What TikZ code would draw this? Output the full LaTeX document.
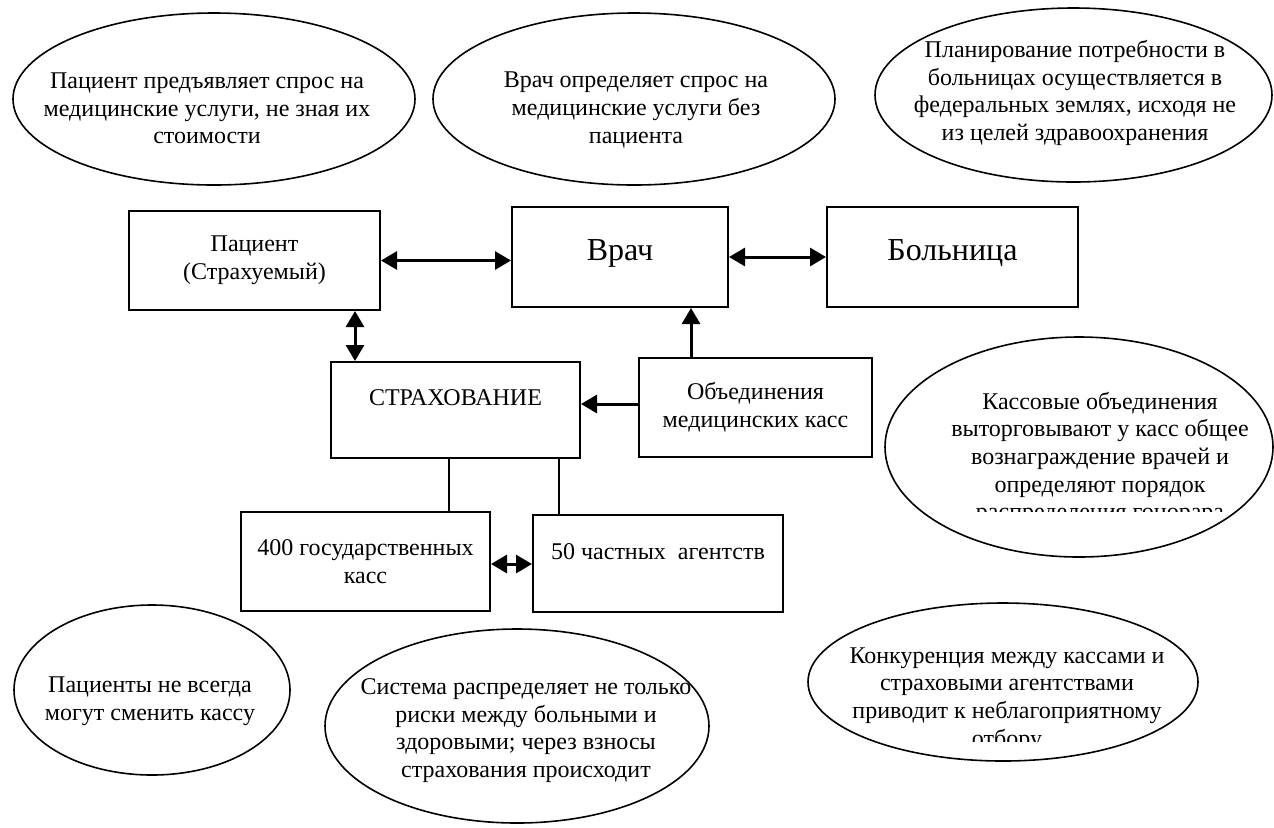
\documentclass[tikz,border=0pt]{standalone}
\usepackage{fontspec}
\setmainfont{Liberation Serif}
\usetikzlibrary{shapes.geometric,arrows.meta,calc}
\begin{document}
\begin{tikzpicture}[x=0.5pt,y=-0.5pt,
  box/.style={draw, line width=1pt, rectangle, inner sep=0pt, align=center, font=\fontsize{12}{13.8}\selectfont},
  bigbox/.style={box, font=\fontsize{16}{18}\selectfont, text height=10.6pt, text depth=7pt},
  oval/.style={draw, line width=0.8pt, ellipse, inner sep=0pt},
  txt/.style={align=center, inner sep=0pt, font=\fontsize{12}{13.8}\selectfont},
  biarr/.style={line width=1.5pt, {Triangle[length=8pt,width=9pt]}-{Triangle[length=8pt,width=9pt]}},
  arr/.style={line width=1.5pt, -{Triangle[length=8pt,width=9pt]}},
  link/.style={line width=0.9pt}]
\useasboundingbox (0,0) rectangle (1274,827);

% ellipses (top)
\node[oval, minimum width=201pt, minimum height=86pt] (e1) at (214,99) {};
\node[txt] (t1) at (207,108.5) {Пациент предъявляет спрос на\\медицинские услуги, не зная их\\стоимости};
\node[oval, minimum width=201pt, minimum height=86pt] (e2) at (634,99) {};
\node[txt] (t2) at (636,110) {Врач определяет спрос на\\медицинские услуги без\\пациента};
\node[oval, minimum width=198.5pt, minimum height=87pt] (e3) at (1073.5,95) {};
\node[txt] (t3) at (1075,93) {Планирование потребности в\\больницах осуществляется в\\федеральных землях, исходя не\\из целей здравоохранения};

% boxes
\node[box, minimum width=125.5pt, minimum height=49.5pt] (pac) at (254.5,260.5) {Пациент\\(Страхуемый)};
\node[bigbox, minimum width=108pt, minimum height=50pt] (vrach) at (620,257) {Врач};
\node[bigbox, minimum width=125.5pt, minimum height=50pt] (bol) at (952.5,257) {Больница};
\node[box, minimum width=124.5pt, minimum height=48pt, text height=8pt, text depth=13pt] (strakh) at (455.5,410) {СТРАХОВАНИЕ};
\node[box, minimum width=116.5pt, minimum height=49.5pt] (obed) at (755.5,407.5) {Объединения\\медицинских касс};
\node[box, minimum width=124.5pt, minimum height=49.5pt] (k400) at (365.5,561.5) {400 государственных\\касс};
\node[box, minimum width=125pt, minimum height=48.5pt, text height=8pt, text depth=11.6pt] (a50) at (658,563.5) {50 частных\ \ агентств};

% connectors
\draw[biarr] (pac.east) -- (pac.east -| vrach.west);
\draw[biarr] (vrach.east) -- (bol.west);
\draw[biarr] ([xshift=50.25pt]pac.south) -- ([xshift=50.25pt]pac.south |- strakh.north);
\draw[arr] ([xshift=-32.25pt]obed.north) -- ([xshift=-32.25pt]obed.north |- vrach.south);
\draw[arr] ([yshift=1.75pt]obed.west) -- ([yshift=1.75pt]obed.west -| strakh.east);
\draw[link] ([xshift=-3.25pt]strakh.south) -- ([xshift=-3.25pt]strakh.south |- k400.north);
\draw[link] ([xshift=51.75pt]strakh.south) -- ([xshift=51.75pt]strakh.south |- a50.north);
\draw[biarr] ([yshift=-1.25pt]k400.east) -- ([yshift=-1.25pt]k400.east -| a50.west);

% right ellipses with clipped text
\node[oval, minimum width=194pt, minimum height=110pt] (e4) at (1079,447) {};
\begin{scope}
  \clip (880,330) rectangle (1274,511);
  \node[txt] (t4) at (1100,458.5) {Кассовые объединения\\выторговывают у касс общее\\вознаграждение врачей и\\определяют порядок\\распределения гонорара};
\end{scope}
\node[oval, minimum width=195pt, minimum height=79pt] (e5) at (1003,682) {};
\begin{scope}
  \clip (800,600) rectangle (1210,741);
  \node[txt] (t5) at (1007,699.5) {Конкуренция между кассами и\\страховыми агентствами\\приводит к неблагоприятному\\отбору};
\end{scope}

% bottom ellipses
\node[oval, minimum width=138pt, minimum height=85pt] (e6) at (152,690) {};
\node[txt] (t6) at (150,701) {Пациенты не всегда\\могут сменить кассу};
\node[oval, minimum width=192pt, minimum height=97pt] (e7) at (517,726) {};
\node[txt] (t7) at (526,730.5) {Система распределяет не только\\риски между больными и\\здоровыми; через взносы\\страхования происходит};
\end{tikzpicture}
\end{document}
